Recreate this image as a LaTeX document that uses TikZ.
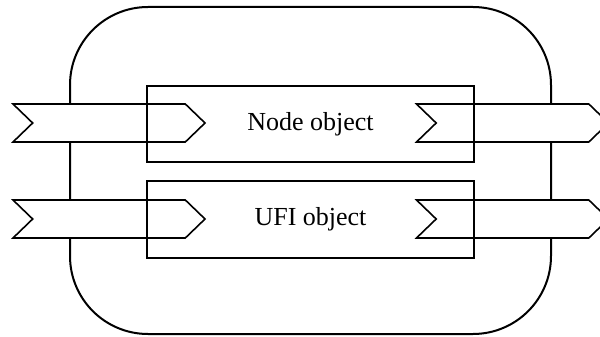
\documentclass[tikz,border=0pt]{standalone}
\usepackage{fontspec}
\setmainfont{Liberation Serif}
\usetikzlibrary{shapes.symbols}

\tikzset{
    chevron/.style={signal, signal from=west, signal to=east, signal pointer angle=88,
        draw, fill=white, line width=1.6pt, inner sep=0pt,
        minimum width=192pt, minimum height=38pt},
    objbox/.style={draw, rectangle, inner sep=0pt, minimum width=327pt,
        font=\fontsize{26}{30}\selectfont},
}

\begin{document}
\begin{tikzpicture}[x=1pt, y=-1pt]
    \path[use as bounding box, clip] (0,0) rectangle (600,337);
    % outer frame
    \draw[line width=2pt, rounded corners=78pt] (70,7) rectangle (551,334);
    % in and out chevrons
    \node[chevron] (inNode) at (109,123) {};
    \node[chevron] (inUFI) at (109,219) {};
    \node[chevron] (outNode) at (512.5,123) {};
    \node[chevron] (outUFI) at (512.5,219) {};
    % the two objects
    \node[objbox, line width=2.6pt, minimum height=76pt] (nodeObj) at (310.5,124) {Node object};
    \node[objbox, line width=1.6pt, minimum height=77pt] (ufiObj) at (310.5,219.5) {UFI object};
\end{tikzpicture}
\end{document}
